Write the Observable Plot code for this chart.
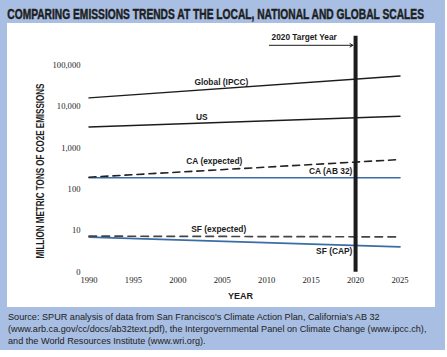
<!DOCTYPE html>
<html>
<head>
<meta charset="utf-8">
<script src="https://cdn.jsdelivr.net/npm/d3@7"></script>
<script src="https://cdn.jsdelivr.net/npm/@observablehq/plot@0.6"></script>
<style>
  html, body { margin: 0; padding: 0; background: #fff; }
  #wrap { position: relative; width: 447px; height: 357px; background: #fff; overflow: hidden; }
  #bg { position: absolute; left: 0; top: 0; width: 445px; height: 350px; background: #a8bee2; }
  #title { position: absolute; left: 0; top: 0; overflow: visible; }
  #chart { position: absolute; left: 7px; top: 23px; width: 428px; height: 284px; background: #fff; }
  #chart svg { display: block; overflow: visible; }
  #caption { position: absolute; left: 8px; top: 311px; font-family: "Liberation Sans", Arial, sans-serif; font-size: 9.15px; line-height: 12px; color: #222; white-space: nowrap; }
</style>
</head>
<body>
<div id="wrap">
  <div id="bg"></div>
  <svg id="title" width="447" height="23">
    <text id="titleText" x="0" y="0" font-family="Liberation Sans Narrow, Liberation Sans, Arial, sans-serif" font-weight="bold" font-size="15.5" fill="#1e1e1e" stroke="#1e1e1e" stroke-width="0.5">COMPARING EMISSIONS TRENDS AT THE LOCAL, NATIONAL AND GLOBAL SCALES</text>
  </svg>
  <div id="chart"></div>
  <div id="caption">Source: SPUR analysis of data from San Francisco's Climate Action Plan, California's AB 32<br>(www.arb.ca.gov/cc/docs/ab32text.pdf), the Intergovernmental Panel on Climate Change (www.ipcc.ch),<br>and the World Resources Institute (www.wri.org).</div>
</div>
<script>
// ---- data ----
const years = [1990, 2025];
const globalIPCC = [15900, 53700];
const us = [3170, 5740];
const caExpected = [195, 520];
const caAB32 = [190, 190];
const sfExpected = [7.4, 7.1];
const sfCAP = [7.0, 4.07];

const xTicks = [1990, 1995, 2000, 2005, 2010, 2015, 2020, 2025];
const yTicks = [1, 10, 100, 1000, 10000, 100000];
const yTickLabels = ["0", "10", "100", "1,000", "10,000", "100,000"];

const labelTexts = ["Global (IPCC)", "US", "CA (expected)", "CA (AB 32)", "SF (expected)", "SF (CAP)"];
const labelYears = [2004.9, 2002.7, 2004.1, 2017.2, 2004.6, 2017.6];
const labelValues = [38900, 5300, 460, 264, 11.0, 3.12];

const targetYear = [2020];
const arrowFrom = [2010.3];
const arrowTo = [2019.7];
const arrowValue = [295000];
const targetText = ["2020 Target Year"];
const targetTextYear = [2010.55];
const targetTextValue = [468000];

const yTitle = "MILLION METRIC TONS OF CO2E EMISSIONS";
const xTitle = "YEAR";

// ---- tables ----
const toRows = (vals) => years.map((y, i) => ({year: y, value: vals[i]}));
const labels = labelTexts.map((t, i) => ({text: t, year: labelYears[i], value: labelValues[i]}));
const arrowRows = arrowFrom.map((d, i) => ({x1: d, x2: arrowTo[i], y: arrowValue[i]}));
const targetRows = targetText.map((t, i) => ({text: t, year: targetTextYear[i], value: targetTextValue[i]}));

const blue = "#3a6da6";
const black = "#1c1c1c";

const chart = Plot.plot({
  width: 428,
  height: 284,
  marginLeft: 81.5,
  marginRight: 35.5,
  marginTop: 41.3,
  marginBottom: 35.3,
  style: {fontFamily: "Liberation Serif, 'DejaVu Serif', serif", fontSize: "8.6px", color: "#222", background: "transparent", overflow: "visible"},
  x: {domain: [1990, 2025], ticks: xTicks, tickFormat: d => String(d), tickSize: 0, tickPadding: 5, label: null},
  y: {type: "log", domain: [1, 100000], ticks: yTicks, tickFormat: d => yTickLabels[yTicks.indexOf(d)], tickSize: 0, tickPadding: 8.5, label: null},
  marks: [
    Plot.lineY(toRows(globalIPCC), {x: "year", y: "value", stroke: black, strokeWidth: 1.4}),
    Plot.lineY(toRows(us), {x: "year", y: "value", stroke: black, strokeWidth: 1.4}),
    Plot.lineY(toRows(caAB32), {x: "year", y: "value", stroke: blue, strokeWidth: 1.6}),
    Plot.lineY(toRows(caExpected), {x: "year", y: "value", stroke: "#222", strokeWidth: 1.6, strokeDasharray: "7,5"}),
    Plot.lineY(toRows(sfCAP), {x: "year", y: "value", stroke: blue, strokeWidth: 1.6}),
    Plot.lineY(toRows(sfExpected), {x: "year", y: "value", stroke: "#444", strokeWidth: 1.7, strokeDasharray: "7.5,5.5"}),
    Plot.ruleX(targetYear, {stroke: black, strokeWidth: 4, insetTop: -28.5}),
    Plot.arrow(arrowRows, {x1: "x1", x2: "x2", y1: "y", y2: "y", stroke: black, strokeWidth: 1, headLength: 5, bend: 0}),
    Plot.text(targetRows, {x: "year", y: "value", text: "text", textAnchor: "start", fontFamily: "Liberation Sans, Arial, sans-serif", fontWeight: "bold", fontSize: 8.3, fill: black}),
    Plot.text(labels, {x: "year", y: "value", text: "text", textAnchor: "middle", fontFamily: "Liberation Sans, Arial, sans-serif", fontWeight: "bold", fontSize: 8.4, fill: black}),
    Plot.text([yTitle], {frameAnchor: "left", textAnchor: "middle", lineAnchor: "middle", text: d => d, rotate: -90, dx: -48.8, dy: 2.5, fontFamily: "Liberation Sans, Arial, sans-serif", fontWeight: "bold", fontSize: 10.3, fill: black}),
    Plot.text([xTitle], {frameAnchor: "bottom", text: d => d, dy: 26.5, dx: -4, fontFamily: "Liberation Sans, Arial, sans-serif", fontWeight: "bold", fontSize: 9, fill: black})
  ]
});
document.getElementById("chart").appendChild(chart);

// condense the y-axis title to the reference's length (175px on screen)
chart.querySelectorAll("text").forEach(t => {
  if (t.textContent === yTitle) {
    const tr = t.getAttribute("transform") || "";
    const L = t.getComputedTextLength();
    if (L > 0) {
      let s = 175 / L;
      t.setAttribute("transform", tr + ` scale(${s},1)`);
      const h = t.getBoundingClientRect().height;
      if (h > 0) { s = s * 175 / h; t.setAttribute("transform", tr + ` scale(${s},1)`); }
    }
  }
});
// condense the title
const tt = document.getElementById("titleText");
const TL = tt.getComputedTextLength();
tt.setAttribute("transform", `translate(7.3,18.5) scale(${417 / TL},1)`);
</script>
</body>
</html>
